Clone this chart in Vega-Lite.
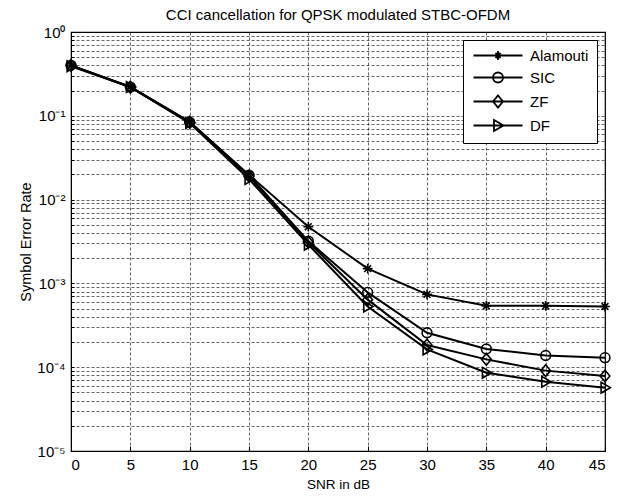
{
  "$schema": "https://vega.github.io/schema/vega-lite/v6.json",
  "autosize": {"type": "none"},
  "width": 534,
  "height": 419,
  "padding": {"left": 71, "top": 32, "right": 19, "bottom": 46},
  "background": "white",
  "title": {"text": "CCI cancellation for QPSK modulated STBC-OFDM", "font": "Liberation Sans", "fontSize": 15, "fontWeight": "normal", "color": "black", "offset": 2, "anchor": "middle"},
  "data": {"values": [
    {"series": "Alamouti", "snr": 0, "ser": 0.40},
    {"series": "Alamouti", "snr": 5, "ser": 0.222},
    {"series": "Alamouti", "snr": 10, "ser": 0.085},
    {"series": "Alamouti", "snr": 15, "ser": 0.0197},
    {"series": "Alamouti", "snr": 20, "ser": 0.00475},
    {"series": "Alamouti", "snr": 25, "ser": 0.0015},
    {"series": "Alamouti", "snr": 30, "ser": 0.00074},
    {"series": "Alamouti", "snr": 35, "ser": 0.00054},
    {"series": "Alamouti", "snr": 40, "ser": 0.00054},
    {"series": "Alamouti", "snr": 45, "ser": 0.00053},
    {"series": "SIC", "snr": 0, "ser": 0.40},
    {"series": "SIC", "snr": 5, "ser": 0.22},
    {"series": "SIC", "snr": 10, "ser": 0.084},
    {"series": "SIC", "snr": 15, "ser": 0.0195},
    {"series": "SIC", "snr": 20, "ser": 0.0032},
    {"series": "SIC", "snr": 25, "ser": 0.00078},
    {"series": "SIC", "snr": 30, "ser": 0.000258},
    {"series": "SIC", "snr": 35, "ser": 0.000165},
    {"series": "SIC", "snr": 40, "ser": 0.000138},
    {"series": "SIC", "snr": 45, "ser": 0.00013},
    {"series": "ZF", "snr": 0, "ser": 0.40},
    {"series": "ZF", "snr": 5, "ser": 0.22},
    {"series": "ZF", "snr": 10, "ser": 0.084},
    {"series": "ZF", "snr": 15, "ser": 0.019},
    {"series": "ZF", "snr": 20, "ser": 0.0031},
    {"series": "ZF", "snr": 25, "ser": 0.00064},
    {"series": "ZF", "snr": 30, "ser": 0.000184},
    {"series": "ZF", "snr": 35, "ser": 0.000124},
    {"series": "ZF", "snr": 40, "ser": 0.000091},
    {"series": "ZF", "snr": 45, "ser": 0.0000785},
    {"series": "DF", "snr": 0, "ser": 0.39},
    {"series": "DF", "snr": 5, "ser": 0.22},
    {"series": "DF", "snr": 10, "ser": 0.082},
    {"series": "DF", "snr": 15, "ser": 0.0176},
    {"series": "DF", "snr": 20, "ser": 0.0029},
    {"series": "DF", "snr": 25, "ser": 0.00053},
    {"series": "DF", "snr": 30, "ser": 0.000163},
    {"series": "DF", "snr": 35, "ser": 0.000086},
    {"series": "DF", "snr": 40, "ser": 0.000067},
    {"series": "DF", "snr": 45, "ser": 0.000057}
  ]},
  "encoding": {
    "x": {"field": "snr", "type": "quantitative", "title": "SNR in dB",
      "scale": {"domain": [0, 45], "nice": false},
      "axis": {"values": [0, 5, 10, 15, 20, 25, 30, 35, 40, 45], "labelPadding": 11, "titlePadding": 5, "titleFontSize": 13.5}},
    "y": {"field": "ser", "type": "quantitative", "title": "Symbol Error Rate",
      "scale": {"type": "log", "domain": [0.00001, 1], "nice": false},
      "axis": {
        "values": [0.00001, 0.00002, 0.00003, 0.00004, 0.00005, 0.00006, 0.00007, 0.00008, 0.00009,
                   0.0001, 0.0002, 0.0003, 0.0004, 0.0005, 0.0006, 0.0007, 0.0008, 0.0009,
                   0.001, 0.002, 0.003, 0.004, 0.005, 0.006, 0.007, 0.008, 0.009,
                   0.01, 0.02, 0.03, 0.04, 0.05, 0.06, 0.07, 0.08, 0.09,
                   0.1, 0.2, 0.3, 0.4, 0.5, 0.6, 0.7, 0.8, 0.9, 1],
        "labelExpr": "abs(log(datum.value)/LN10 - round(log(datum.value)/LN10)) < 0.001 ? '10' + ['⁰','⁻¹','⁻²','⁻³','⁻⁴','⁻⁵'][-round(log(datum.value)/LN10)] : ''",
        "tickSize": -3,
        "labelPadding": 9, "titlePadding": 3, "titleFontSize": 14.5}}
  },
  "layer": [
    {"mark": {"type": "line", "color": "black", "strokeWidth": 2},
     "encoding": {"detail": {"field": "series"}}},
    {"mark": {"type": "point", "filled": false, "color": "black", "strokeWidth": 1.6, "size": 95, "opacity": 1},
     "encoding": {"shape": {"field": "series", "legend": null,
       "scale": {"domain": ["Alamouti", "SIC", "ZF", "DF"],
         "range": ["M0,-1L0,1M-1,0L1,0M-0.7,-0.7L0.7,0.7M-0.7,0.7L0.7,-0.7",
                   "M1,0A1,1,0,1,1,-1,0A1,1,0,1,1,1,0Z",
                   "M0,-1.2L1,0L0,1.2L-1,0Z",
                   "M-0.8,-1.1L1.1,0L-0.8,1.1Z"]}}}},
    {"mark": {"type": "point", "filled": false, "color": "black", "strokeWidth": 1.8, "size": 100, "opacity": 0},
     "encoding": {"shape": {"field": "series",
       "scale": {"domain": ["Alamouti", "SIC", "ZF", "DF"],
         "range": ["M-1,0L8.8,0M3.9,-0.9L3.9,0.9M3.1,0L4.7,0M3.4,-0.5L4.4,0.5M3.4,0.5L4.4,-0.5",
                   "M-1,0L8.8,0M4.9,0A1,1,0,1,1,2.9,0A1,1,0,1,1,4.9,0Z",
                   "M-1,0L8.8,0M3.9,-1.2L4.9,0L3.9,1.2L2.9,0Z",
                   "M-1,0L8.8,0M3.1,-1.1L5,0L3.1,1.1Z"]},
       "legend": {"title": null, "orient": "top-right", "offset": 8, "padding": 8,
         "strokeColor": "black", "fillColor": "white",
         "labelFont": "Liberation Sans", "labelFontSize": 15, "labelColor": "black",
         "labelExpr": "datum.label == 'Alamouti' ? datum.label : ' ' + datum.label",
         "symbolSize": 100, "symbolStrokeColor": "black", "symbolStrokeWidth": 1.8,
         "symbolFillColor": "transparent", "symbolOpacity": 1,
         "rowPadding": 4, "labelOffset": 44}}}}
  ],
  "resolve": {"scale": {"shape": "independent"}},
  "config": {
    "view": {"stroke": "black", "strokeWidth": 1.2},
    "axis": {"labelFont": "Liberation Sans", "labelFontSize": 15, "labelColor": "black",
      "titleFont": "Liberation Sans", "titleFontSize": 13, "titleFontWeight": "normal", "titleColor": "black",
      "domainColor": "black", "ticks": true, "tickSize": -5, "tickColor": "black", "tickWidth": 1,
      "grid": true, "gridColor": "#000000", "gridOpacity": 0.75, "gridDash": [3, 2], "gridWidth": 0.8}
  }
}
